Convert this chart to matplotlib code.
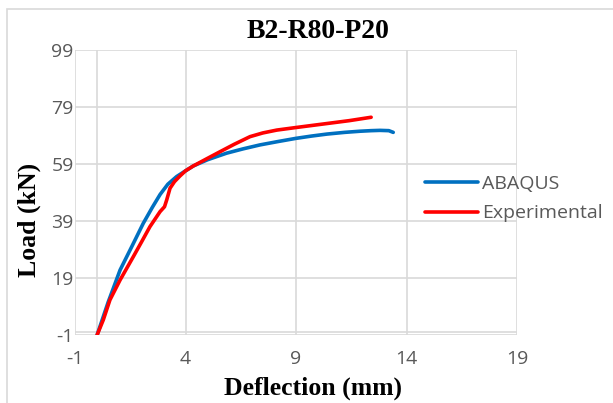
import numpy as np
import matplotlib
matplotlib.use('Agg')
import matplotlib.pyplot as plt
from matplotlib.patches import Rectangle

plt.rcParams['axes.unicode_minus'] = False

# values
abaqus_x = [0, 0.5, 1.04, 1.6, 2.09, 2.5, 2.85, 3.2, 3.6, 4.0, 4.35, 5.0, 5.86, 6.6, 7.37, 8.2, 9.0, 9.7, 10.4, 11.2, 11.9, 12.4, 12.8, 13.2, 13.4]
abaqus_y = [-1, 10.5, 21.8, 30.5, 38.2, 43.8, 48.3, 51.9, 54.6, 56.6, 58.3, 60.5, 62.8, 64.3, 65.7, 66.9, 68.0, 68.8, 69.5, 70.1, 70.5, 70.7, 70.8, 70.7, 70.1]

exp_x = [0, 0.28, 0.58, 1.04, 1.64, 2.0, 2.39, 2.85, 3.05, 3.15, 3.3, 3.5, 3.75, 4.0, 4.35, 5.0, 5.56, 6.2, 6.92, 7.5, 8.13, 9.0, 9.7, 10.4, 11.4, 12.4]
exp_y = [-1, 4.3, 11.3, 18.3, 26.5, 31.5, 37.0, 42.3, 44.0, 46.4, 50.5, 52.8, 54.8, 56.6, 58.3, 61.0, 63.3, 65.9, 68.6, 69.9, 70.9, 71.8, 72.5, 73.2, 74.2, 75.4]

x_ticks = [-1, 4, 9, 14, 19]
y_ticks = [-1, 19, 39, 59, 79, 99]

tick_font = ['Open Sans', 'DejaVu Sans']
serif_font = ['Liberation Serif', 'DejaVu Serif']
grey = '#595959'

fig = plt.figure(figsize=(6.13, 4.03), dpi=100)
ax = fig.add_axes([75 / 613, 1 - 335 / 403, 442 / 613, 285 / 403])

# chart area border
fig.patches.append(Rectangle((7 / 613, -0.1), 1.2, 1 - 9 / 403 + 0.1,
                             transform=fig.transFigure, fill=False,
                             edgecolor='#d9d9d9', linewidth=1.2))

ax.plot(abaqus_x, abaqus_y, color='#0070c0', linewidth=2.6, label='ABAQUS',
        solid_capstyle='round')
ax.plot(exp_x, exp_y, color='#ff0000', linewidth=2.6, label='Experimental',
        solid_capstyle='round')

ax.set_xlim(-1, 19)
ax.set_ylim(-1, 99)
ax.set_xticks(x_ticks)
ax.set_yticks(y_ticks)
ax.grid(True, color='#d9d9d9', linewidth=1.2)
ax.set_axisbelow(True)
# Excel-style axis lines crossing at zero
ax.axvline(0, color='#d9d9d9', linewidth=1.2, zorder=0.5)
ax.axhline(0, color='#d9d9d9', linewidth=1.2, zorder=0.5)
for s in ax.spines.values():
    s.set_visible(False)
ax.tick_params(length=0, colors=grey, labelsize=14)
ax.tick_params(axis='y', pad=1)
ax.tick_params(axis='x', pad=11)
for lab in ax.get_xticklabels() + ax.get_yticklabels():
    lab.set_family(tick_font)

fig.text(318 / 613, 1 - 31 / 403, 'B2-R80-P20', ha='center', va='center',
         family=serif_font, fontweight='bold', fontsize=20)
fig.text(313 / 613, 1 - 388 / 403, 'Deflection (mm)', ha='center', va='center',
         family=serif_font, fontweight='bold', fontsize=18.5)
fig.text(29 / 613, 1 - 220 / 403, 'Load (kN)', ha='center', va='center',
         rotation=90, family=serif_font, fontweight='bold', fontsize=18.5)

leg = ax.legend(loc='center left', bbox_to_anchor=(425 / 613, 1 - 198.5 / 403),
                bbox_transform=fig.transFigure, frameon=False, borderpad=0,
                borderaxespad=0, handlelength=2.7, handletextpad=0.25,
                labelspacing=0.6, prop={'family': tick_font, 'size': 14})
for t in leg.get_texts():
    t.set_color(grey)

fig.savefig('out.png', dpi=100)
